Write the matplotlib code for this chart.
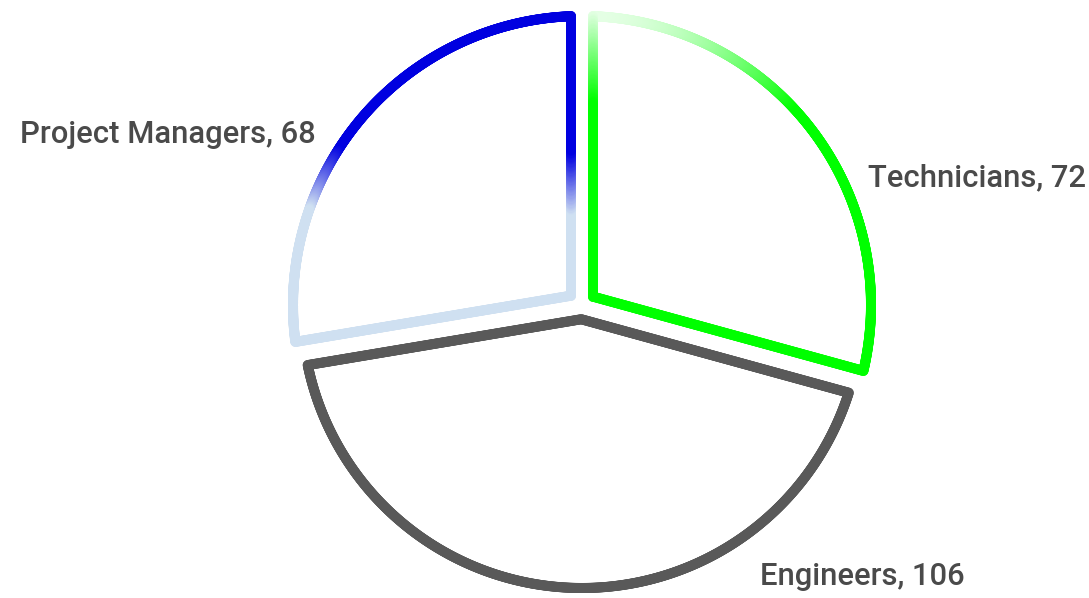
import numpy as np
import matplotlib
matplotlib.use('Agg')
import matplotlib.pyplot as plt
from matplotlib.collections import LineCollection
from matplotlib.colors import to_rgb

categories = ['Technicians', 'Engineers', 'Project Managers']
values = [72, 106, 68]

W, H = 1089, 598
CX, CY = 582, 305            # pie centre in pixels (from top-left)
BASE_R = 280
SLICE_R = [289, 280, 289]    # per-slice outer radius (style)
EXPLODE = [0, 3, 0]
PAD = 11                     # inset of the straight edges (gap / 2)

fig = plt.figure(figsize=(W / 100, H / 100), dpi=100)
ax = fig.add_axes([0, 0, 1, 1])

wedges, _ = ax.pie(values, radius=BASE_R, explode=EXPLODE,
                   startangle=90, counterclock=False, colors=['white'] * len(values),
                   wedgeprops=dict(edgecolor='none', linewidth=0))
for w, r in zip(wedges, SLICE_R):
    w.set_radius(r)

ax.set_xlim(-CX, W - CX)
ax.set_ylim(-(H - CY), CY)
ax.set_aspect('equal')
ax.axis('off')

white = np.array([1.0, 1.0, 1.0])
green = np.array(to_rgb('#00ff00'))
gray = np.array(to_rgb('#595959'))
blue = np.array(to_rgb('#0000e0'))
lblue = np.array(to_rgb('#cfe0f1'))


def grad_tech(py):
    t = np.clip((py - 12) / (105 - 12), 0, 1)[:, None]
    t = 0.06 + 0.94 * t
    return white * (1 - t) + green * t


def grad_eng(py):
    return np.tile(gray, (len(py), 1))


def grad_pm(py):
    t = np.clip((py - 150) / (210 - 150), 0, 1)[:, None]
    return blue * (1 - t) + lblue * t


grads = [grad_tech, grad_eng, grad_pm]


def outline(w, pad, n_arc=700, n_line=220):
    x0, y0 = w.center
    r = w.r
    th1, th2 = np.radians(w.theta1), np.radians(w.theta2)
    half = 0.5 * (th2 - th1)
    mid = 0.5 * (th1 + th2)
    apx = x0 + pad / np.sin(half) * np.cos(mid)
    apy = y0 + pad / np.sin(half) * np.sin(mid)
    dlt = np.arcsin(pad / r)
    t = np.linspace(th1 + dlt, th2 - dlt, n_arc)
    axp = x0 + r * np.cos(t)
    ayp = y0 + r * np.sin(t)
    s = np.linspace(0, 1, n_line)
    l1x = apx + s * (axp[0] - apx)
    l1y = apy + s * (ayp[0] - apy)
    l2x = axp[-1] + s * (apx - axp[-1])
    l2y = ayp[-1] + s * (apy - ayp[-1])
    xs = np.concatenate([l1x, axp[1:], l2x[1:]])
    ys = np.concatenate([l1y, ayp[1:], l2y[1:]])
    return xs, ys


for w, g in zip(wedges, grads):
    xs, ys = outline(w, PAD)
    pts = np.column_stack([xs, ys])
    segs = np.stack([pts[:-1], pts[1:]], axis=1)
    mid_y = 0.5 * (ys[:-1] + ys[1:])
    py = CY - mid_y
    cols = g(py)
    lc = LineCollection(segs, colors=cols, linewidths=7.2, capstyle='round',
                        joinstyle='round', zorder=3)
    ax.add_collection(lc)

labels = [f'{c}, {v}' for c, v in zip(categories, values)]
label_pos = [(868, 186, 'left'), (760, 585, 'left'), (316, 143, 'right')]
for lab, (px, pyb, ha) in zip(labels, label_pos):
    ax.text(px - CX, CY - pyb, lab, ha=ha, va='baseline', fontsize=22.3,
            family='Roboto', fontweight='medium', color='#4a4a4a', zorder=4)

fig.savefig('out.png', dpi=100)
